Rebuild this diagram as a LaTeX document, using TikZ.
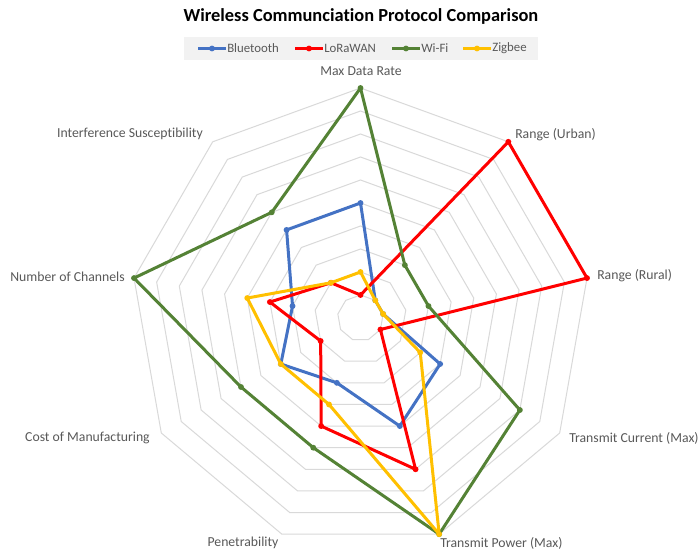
\documentclass[tikz,border=0pt]{standalone}
\usepackage{fontspec}
\setmainfont{Carlito}[Ligatures={NoCommon}]
\definecolor{btc}{HTML}{4472C4}
\definecolor{lwc}{HTML}{FF0000}
\definecolor{wfc}{HTML}{548235}
\definecolor{zbc}{HTML}{FFC000}
\definecolor{gridc}{HTML}{D9D9D9}
\definecolor{labc}{HTML}{595959}
\definecolor{legbg}{HTML}{F2F2F2}
\begin{document}
\begin{tikzpicture}[x=0.75pt,y=-0.75pt,
  gridline/.style={draw=gridc,line width=0.75pt},
  serline/.style={draw=#1,line width=2.25pt,line join=round},
  axlab/.style={text=labc,font=\fontsize{10.3}{12}\selectfont,inner sep=0pt},
  leglab/.style={text=labc,font=\fontsize{9.6}{11}\selectfont,inner sep=0pt,anchor=west},
  ttl/.style={text=black,font=\fontsize{13.8}{16}\bfseries\selectfont,inner sep=0pt}]
\useasboundingbox (0,0) rectangle (700,551);
\fill[white] (0,0) rectangle (700,551);
\def\cx{360.5}\def\cy{318}\def\u{23}
% grid rings
\foreach \r in {1,...,10}{
  \draw[gridline] ({\cx},{\cy-\u*\r}) \foreach \k in {1,...,8}{ -- ({\cx+\u*\r*cos(90-40*\k)},{\cy-\u*\r*sin(90-40*\k)}) } -- cycle;
}
% data coordinates
\foreach \v [count=\k from 0] in {5,1,1,4,5,3,4,3,5}
  \coordinate (bt\k) at ({\cx+\u*\v*cos(90-40*\k)},{\cy-\u*\v*sin(90-40*\k)});
\foreach \v [count=\k from 0] in {1,10,10,1,7,5,2,4,2}
  \coordinate (lw\k) at ({\cx+\u*\v*cos(90-40*\k)},{\cy-\u*\v*sin(90-40*\k)});
\foreach \v [count=\k from 0] in {10,3,3,8,10,6,6,10,6}
  \coordinate (wf\k) at ({\cx+\u*\v*cos(90-40*\k)},{\cy-\u*\v*sin(90-40*\k)});
\foreach \v [count=\k from 0] in {2,1,1,3,10,4,4,5,2}
  \coordinate (zb\k) at ({\cx+\u*\v*cos(90-40*\k)},{\cy-\u*\v*sin(90-40*\k)});
% series
\foreach \s in {bt,lw,wf,zb}{
  \draw[serline=\s c] (\s0) -- (\s1) -- (\s2) -- (\s3) -- (\s4) -- (\s5) -- (\s6) -- (\s7) -- (\s8) -- cycle;
  \foreach \k in {0,...,8} \fill[\s c] (\s\k) circle (2.2pt);
}
% axis labels
\node[axlab] (l0) at (361,71) {Max Data Rate};
\node[axlab,anchor=west] (l1) at (515,135) {Range (Urban)};
\node[axlab,anchor=west] (l2) at (597,276) {Range (Rural)};
\node[axlab,anchor=west] (l3) at (569,438) {Transmit Current (Max)};
\node[axlab,anchor=west] (l4) at (440,543) {Transmit Power (Max)};
\node[axlab] (l5) at (243,543) {Penetrability};
\node[axlab,anchor=east] (l6) at (150,438) {Cost of Manufacturing};
\node[axlab,anchor=east] (l7) at (125,277) {Number of Channels};
\node[axlab,anchor=east] (l8) at (203,134) {Interference Susceptibility};
% title
\node[ttl] (title) at (361,16) {Wireless Communciation Protocol Comparison};
% legend
\fill[legbg] (184,37) rectangle (538,60);
\foreach \s/\a/\t in {bt/198/Bluetooth,lw/295/LoRaWAN,wf/392/Wi-Fi,zb/463/Zigbee}{
  \coordinate (\s a) at (\a,48.5);
  \coordinate (\s b) at (\a+28,48.5);
  \coordinate (\s m) at (\a+14,48.5);
  \draw[serline=\s c] (\s a) -- (\s b);
  \fill[\s c] (\s m) circle (2.2pt);
  \node[leglab] (\s t) at (\a+29,48.5) {\t};
}
\end{tikzpicture}
\end{document}
